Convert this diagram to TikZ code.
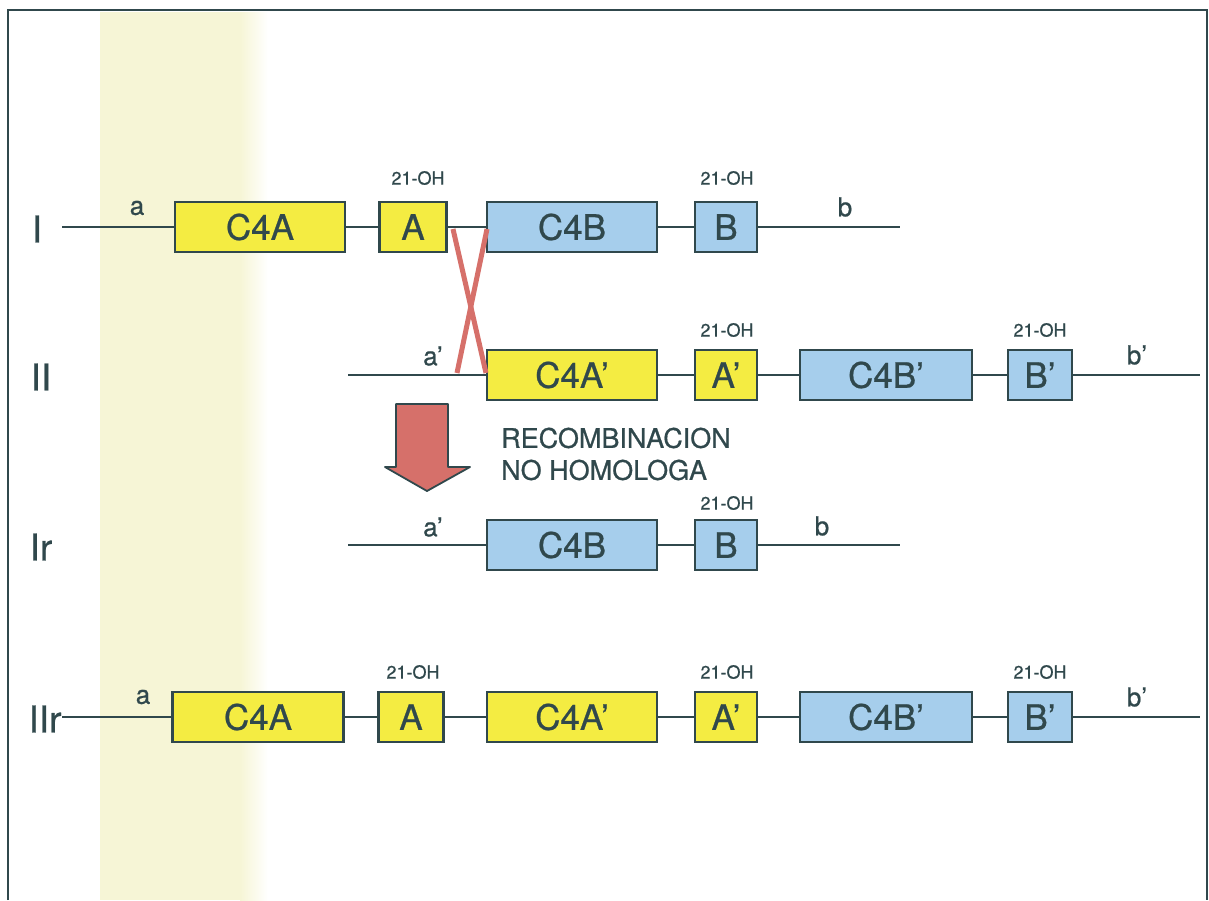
\documentclass[tikz,border=0pt]{standalone}
\usepackage{fontspec}
\setmainfont{TeX Gyre Heros}[FakeBold=0.7]
\definecolor{ink}{RGB}{48,72,76}
\definecolor{gy}{RGB}{244,236,66}
\definecolor{gb}{RGB}{166,206,236}
\definecolor{xred}{RGB}{214,112,106}
\definecolor{band}{RGB}{246,245,214}
\begin{document}
\begin{tikzpicture}[x=1pt,y=-1pt,
  gene/.style={draw=ink,line width=2.6pt,minimum height=50pt,inner sep=0pt,text=ink,font=\fontsize{35}{35}\selectfont},
  ybox/.style={gene,fill=gy},
  bbox/.style={gene,fill=gb},
  dna/.style={draw=ink,line width=2.4pt},
  ohlab/.style={text=ink,font=\fontsize{18}{18}\selectfont,inner sep=0pt},
  endlab/.style={text=ink,font=\fontsize{26}{26}\selectfont,inner sep=0pt},
  rowlab/.style={text=ink,font=\fontsize{37}{37}\selectfont,inner sep=0pt},
  xline/.style={draw=xred,line width=5pt}]
\useasboundingbox (0,0) rectangle (1209,900);
% background band
\fill[band] (100,12) rectangle (240,900);
\shade[left color=band,right color=white] (240,12) rectangle (268,900);
% frame
\draw[ink,line width=2.4pt] (8,900) -- (8,10) -- (1207,10) -- (1207,900);

% Row I
\node[rowlab] (lI) at (37,229) {I};
\coordinate (sI) at (62,227);
\coordinate (eI) at (900,227);
\node[ybox,minimum width=170pt] (c4aI) at (260,227) {C4A};
\node[ybox,minimum width=67pt] (aI) at (413,227) {A};
\node[bbox,minimum width=170pt] (c4bI) at (572,227) {C4B};
\node[bbox,minimum width=62pt] (bI) at (726,227) {B};
\draw[dna] (sI) -- (c4aI) (c4aI) -- (aI) (aI) -- (c4bI) (c4bI) -- (bI) (bI) -- (eI);
\node[endlab] (laI) at (137,208) {a};
\node[endlab] (lbI) at (845,207) {b};
\node[ohlab] (ohAI) at (418,178) {21-OH};
\node[ohlab] (ohBI) at (727,178) {21-OH};

% Row II
\node[rowlab] (lII) at (41,377) {II};
\coordinate (sII) at (348,375);
\coordinate (eII) at (1200,375);
\node[ybox,minimum width=170pt] (c4aII) at (572,375) {C4A'};
\node[ybox,minimum width=62pt] (aII) at (726,375) {A'};
\node[bbox,minimum width=172pt] (c4bII) at (886,375) {C4B'};
\node[bbox,minimum width=64pt] (bII) at (1040,375) {B'};
\draw[dna] (sII) -- (c4aII) (c4aII) -- (aII) (aII) -- (c4bII) (c4bII) -- (bII) (bII) -- (eII);
\node[endlab] (laII) at (433,356) {a'};
\node[endlab] (lbII) at (1137,355) {b'};
\node[ohlab] (ohAII) at (727,330) {21-OH};
\node[ohlab] (ohBII) at (1040,330) {21-OH};

% crossover
\coordinate (x1) at (453,229);
\coordinate (x2) at (486,373);
\coordinate (x3) at (487,229);
\coordinate (x4) at (457,373);
\draw[xline] (x1) -- (x2);
\draw[xline] (x3) -- (x4);

% big arrow
\draw[ink,line width=1.8pt,fill=xred,line join=round]
  (396,404) -- (448,404) -- (448,467) -- (470,467) -- (427,491) -- (385,467) -- (396,467) -- cycle;
\node[text=ink,font=\fontsize{27}{32}\selectfont,align=left,anchor=west,inner sep=0pt] (rec) at (501,454) {RECOMBINACION\\NO HOMOLOGA};

% Row Ir
\node[rowlab] (lIr) at (41,547) {Ir};
\coordinate (sIr) at (348,545);
\coordinate (eIr) at (900,545);
\node[bbox,minimum width=170pt] (c4bIr) at (572,545) {C4B};
\node[bbox,minimum width=62pt] (bIr) at (726,545) {B};
\draw[dna] (sIr) -- (c4bIr) (c4bIr) -- (bIr) (bIr) -- (eIr);
\node[endlab] (laIr) at (433,527) {a'};
\node[endlab] (lbIr) at (822,526) {b};
\node[ohlab] (ohBIr) at (727,503) {21-OH};

% Row IIr
\node[rowlab] (lIIr) at (45,719) {IIr};
\coordinate (sIIr) at (62,717);
\coordinate (eIIr) at (1200,717);
\node[ybox,minimum width=171pt] (c4aIIr) at (258,717) {C4A};
\node[ybox,minimum width=65pt] (aIIr) at (411,717) {A};
\node[ybox,minimum width=170pt] (c4a2IIr) at (572,717) {C4A'};
\node[ybox,minimum width=62pt] (a2IIr) at (726,717) {A'};
\node[bbox,minimum width=172pt] (c4bIIr) at (886,717) {C4B'};
\node[bbox,minimum width=64pt] (bIIr) at (1040,717) {B'};
\draw[dna] (sIIr) -- (c4aIIr) (c4aIIr) -- (aIIr) (aIIr) -- (c4a2IIr) (c4a2IIr) -- (a2IIr) (a2IIr) -- (c4bIIr) (c4bIIr) -- (bIIr) (bIIr) -- (eIIr);
\node[endlab] (laIIr) at (143,697) {a};
\node[endlab] (lbIIr) at (1137,697) {b'};
\node[ohlab] (ohAIIr) at (413,672) {21-OH};
\node[ohlab] (ohA2IIr) at (727,672) {21-OH};
\node[ohlab] (ohBIIr) at (1040,672) {21-OH};
\end{tikzpicture}
\end{document}
